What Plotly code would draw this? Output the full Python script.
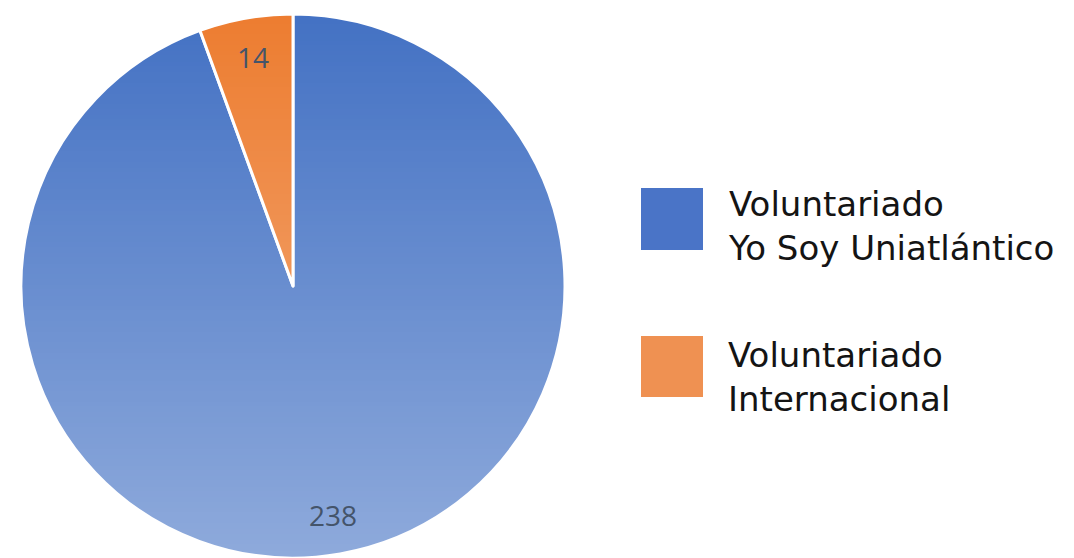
import base64
import math
import struct
import zlib

import plotly.graph_objects as go

# ---- data ----
labels = ["Voluntariado<br>Yo Soy Uniatlántico", "Voluntariado<br>Internacional"]
values = [238, 14]
slice_colors = ["#4472C4", "#ED7D31"]
legend_colors = ["#4A74C7", "#EF9152"]

W, H = 1074, 558
OFF = 8  # page body margin offset (px)

# target pie geometry on screen
PCX, PCY, PR = 293 - OFF, 286 - OFF, 272
dom_x = [(PCX - PR) / W, (PCX + PR) / W]
dom_y = [1 - (PCY + PR) / H, 1 - (PCY - PR) / H]


def gradient_png(h, a_top, a_bottom, w=4):
    rows = []
    for j in range(h):
        a = int(round(255 * (a_top + (a_bottom - a_top) * j / (h - 1))))
        rows.append(b"\x00" + bytes([255, 255, 255, a]) * w)
    raw = b"".join(rows)

    def chunk(t, d):
        return struct.pack(">I", len(d)) + t + d + struct.pack(">I", zlib.crc32(t + d) & 0xFFFFFFFF)

    ihdr = struct.pack(">IIBBBBB", w, h, 8, 6, 0, 0, 0)
    png = b"\x89PNG\r\n\x1a\n" + chunk(b"IHDR", ihdr) + chunk(b"IDAT", zlib.compress(raw)) + chunk(b"IEND", b"")
    return "data:image/png;base64," + base64.b64encode(png).decode()


fig = go.Figure()
fig.add_trace(
    go.Pie(
        labels=labels,
        values=values,
        sort=False,
        direction="clockwise",
        rotation=0,
        marker=dict(colors=slice_colors, line=dict(color="white", width=3)),
        textinfo="none",
        hoverinfo="label+value",
        domain=dict(x=dom_x, y=dom_y),
        showlegend=False,
    )
)

# pie geometry in pixels (derived from the domain)
cx = (dom_x[0] + dom_x[1]) / 2 * W
cy = (1 - (dom_y[0] + dom_y[1]) / 2) * H
R = min((dom_x[1] - dom_x[0]) * W, (dom_y[1] - dom_y[0]) * H) / 2

annotations = []
total = sum(values)
cum = 0
for v in values:
    theta = 2 * math.pi * (cum + v / 2) / total
    cum += v
    px = cx + 0.855 * R * math.sin(theta)
    py = cy - 0.855 * R * math.cos(theta)
    annotations.append(
        dict(
            x=px / W, y=1 - py / H, xref="paper", yref="paper",
            text=str(v), showarrow=False,
            font=dict(family="Open Sans", size=28, color="#44546A"),
            xanchor="center", yanchor="middle",
        )
    )

# legend (squares + labels)
shapes = []
legend_rows = [(188, 250, 226), (336, 397, 377)]
for (top, bot, tmid), lab, col in zip(legend_rows, labels, legend_colors):
    shapes.append(
        dict(type="rect", xref="paper", yref="paper",
             x0=(641 - OFF) / W, x1=(703 - OFF) / W,
             y0=1 - (bot - OFF) / H, y1=1 - (top - OFF) / H,
             fillcolor=col, line=dict(width=0), layer="above")
    )
    annotations.append(
        dict(x=(726 - OFF) / W, y=1 - (tmid - OFF) / H, xref="paper", yref="paper",
             text=lab, showarrow=False, align="left",
             xanchor="left", yanchor="middle",
             font=dict(family="DejaVu Sans", size=34, color="#141414"))
    )

fig.update_layout(
    width=W,
    height=H,
    margin=dict(l=0, r=0, t=0, b=0),
    paper_bgcolor="white",
    plot_bgcolor="white",
    annotations=annotations,
    shapes=shapes,
    images=[
        dict(
            source=gradient_png(256, 0.0, 0.40),
            xref="paper", yref="paper",
            x=(cx - R) / W, y=1 - (cy - R) / H,
            sizex=2 * R / W, sizey=2 * R / H,
            xanchor="left", yanchor="top",
            sizing="stretch", layer="above",
        )
    ],
)

fig.write_html("out.html")
